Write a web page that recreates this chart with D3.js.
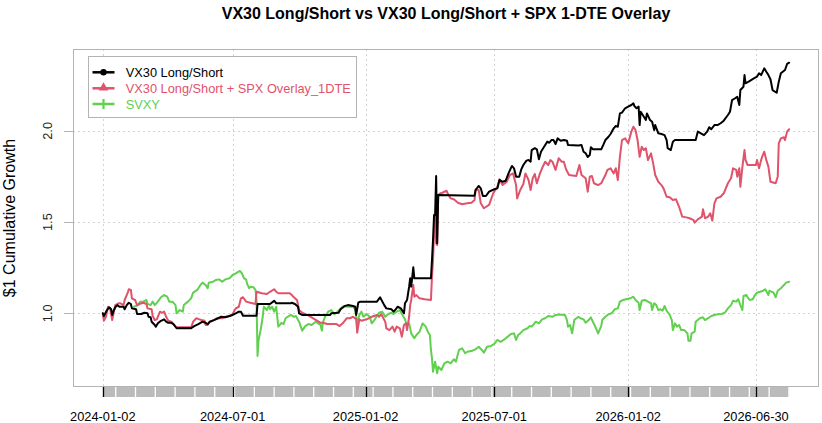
<!DOCTYPE html>
<html><head><meta charset="utf-8">
<script src="https://cdn.jsdelivr.net/npm/d3@7/dist/d3.min.js"></script>
<style>
html,body{margin:0;padding:0;background:#fff;}
svg{display:block;font-family:"Liberation Sans",Arial,Helvetica,sans-serif;}
</style></head>
<body>
<svg id="chart" width="822" height="423"></svg>
<script>
// ---- data (observation index, $1 cumulative growth) ----
const title = "VX30 Long/Short vs VX30 Long/Short + SPX 1-DTE Overlay";
const yTitle = "$1 Cumulative Growth";
const seriesNames = ["VX30 Long/Short", "VX30 Long/Short + SPX Overlay_1DTE", "SVXY"];
const nObs = 661;
const tickIdx = [0, 125, 253, 377, 506, 629];
const tickLabels = ["2024-01-02", "2024-07-01", "2025-01-02", "2025-07-01", "2026-01-02", "2026-06-30"];
const yTicks = [1.0, 1.5, 2.0];

const vx30 = [[0,1.000],[1,0.985],[4,1.018],[6,1.033],[8,1.022],[9,0.991],[10,1.009],[12,1.033],[14,1.045],[16,1.036],[20,1.036],[21,1.022],[23,1.045],[25,1.058],[27,1.051],[28,1.027],[32,1.022],[33,0.996],[37,0.996],[40,1.003],[43,1.000],[44,0.981],[46,0.978],[47,0.954],[50,0.936],[51,0.927],[53,0.945],[56,0.959],[59,0.967],[61,0.954],[63,0.948],[66,0.948],[68,0.941],[71,0.918],[85,0.918],[88,0.930],[92,0.941],[96,0.954],[99,0.948],[101,0.941],[103,0.954],[107,0.963],[111,0.973],[114,0.981],[118,0.978],[122,0.985],[125,0.991],[128,1.000],[131,1.009],[133,1.009],[135,0.987],[148,0.987],[149,1.051],[161,1.051],[164,1.064],[165,1.069],[167,1.055],[181,1.055],[182,1.058],[185,1.051],[188,1.036],[189,1.000],[192,0.991],[219,0.991],[220,1.000],[227,1.003],[229,1.022],[233,1.040],[236,1.045],[241,1.040],[243,1.036],[244,0.991],[246,1.058],[248,1.064],[264,1.064],[267,1.088],[268,1.077],[271,1.045],[273,1.027],[278,1.022],[280,1.009],[282,1.022],[284,1.036],[287,1.027],[290,1.000],[291,1.055],[293,1.073],[294,1.110],[295,1.146],[296,1.192],[297,1.146],[299,1.252],[300,1.192],[302,1.192],[316,1.192],[317,1.292],[318,1.402],[319,1.539],[320,1.539],[321,1.753],[322,1.384],[323,1.649],[358,1.645],[359,1.676],[362,1.698],[364,1.685],[366,1.643],[369,1.643],[372,1.667],[377,1.680],[380,1.685],[382,1.731],[385,1.721],[388,1.727],[391,1.771],[394,1.808],[396,1.795],[398,1.749],[401,1.749],[403,1.789],[405,1.813],[408,1.837],[410,1.840],[412,1.831],[413,1.895],[416,1.905],[418,1.899],[420,1.844],[422,1.886],[425,1.913],[428,1.941],[430,1.935],[432,1.950],[434,1.950],[436,1.928],[438,1.959],[441,1.946],[444,1.950],[447,1.946],[448,1.923],[458,1.920],[461,1.923],[463,1.886],[465,1.877],[467,1.857],[469,1.868],[470,1.910],[472,1.899],[480,1.899],[482,1.923],[484,1.950],[487,1.968],[489,1.983],[492,2.014],[494,2.027],[496,2.023],[498,2.096],[500,2.100],[503,2.124],[506,2.133],[509,2.142],[511,2.151],[512,2.136],[514,2.124],[516,2.133],[517,2.032],[518,2.105],[520,2.087],[523,2.060],[524,2.096],[527,2.060],[529,2.050],[531,2.005],[532,2.032],[535,1.987],[538,1.983],[541,1.977],[543,1.950],[544,1.905],[547,1.895],[549,1.941],[551,1.950],[571,1.950],[573,1.996],[576,1.987],[579,1.977],[582,1.996],[584,2.020],[586,2.009],[589,2.032],[592,2.032],[595,2.042],[598,2.056],[602,2.087],[604,2.105],[606,2.169],[609,2.179],[611,2.187],[613,2.142],[614,2.224],[617,2.242],[618,2.306],[619,2.261],[622,2.270],[627,2.288],[630,2.297],[632,2.316],[634,2.306],[637,2.343],[639,2.324],[641,2.306],[643,2.283],[645,2.224],[649,2.209],[651,2.270],[653,2.316],[657,2.334],[659,2.367],[661,2.374]];

const vx30Overlay = [[0,1.000],[1,0.959],[3,0.981],[5,1.036],[7,1.027],[9,0.963],[10,0.991],[12,1.045],[15,1.055],[17,1.055],[20,1.045],[21,1.073],[24,1.113],[25,1.132],[27,1.128],[28,1.082],[31,1.073],[33,1.045],[35,1.051],[39,1.058],[42,1.051],[43,1.027],[47,1.022],[48,0.985],[50,0.963],[52,0.967],[55,1.009],[57,1.003],[59,1.009],[61,0.981],[63,0.959],[66,0.954],[68,0.941],[71,0.923],[85,0.923],[87,0.954],[90,0.973],[93,0.967],[95,0.963],[98,0.959],[99,0.936],[101,0.936],[103,0.954],[107,0.963],[110,0.973],[115,0.973],[118,0.981],[122,0.985],[125,0.996],[128,1.027],[131,1.036],[133,1.082],[135,1.088],[138,1.064],[142,1.058],[147,1.051],[148,1.118],[153,1.110],[158,1.106],[161,1.118],[165,1.132],[167,1.118],[169,1.110],[180,1.110],[182,1.100],[184,1.088],[187,1.073],[189,1.018],[192,1.003],[197,0.991],[209,0.950],[212,0.948],[216,0.941],[225,0.941],[228,0.930],[231,0.945],[235,0.973],[238,0.973],[241,0.981],[244,0.967],[245,0.894],[247,0.967],[249,0.959],[254,0.967],[259,0.981],[264,0.991],[266,0.981],[268,0.996],[272,0.954],[273,0.918],[276,0.908],[279,0.927],[281,0.899],[283,0.927],[286,0.918],[288,0.872],[290,0.936],[292,0.945],[293,0.908],[295,0.981],[296,1.045],[297,1.073],[299,1.155],[300,1.091],[302,1.100],[305,1.082],[310,1.077],[316,1.073],[317,1.201],[318,1.292],[319,1.439],[320,1.539],[321,1.384],[322,1.374],[323,1.649],[325,1.658],[327,1.661],[331,1.672],[332,1.658],[335,1.630],[338,1.625],[342,1.606],[346,1.598],[351,1.603],[355,1.606],[358,1.621],[359,1.679],[362,1.676],[364,1.603],[367,1.576],[372,1.594],[376,1.658],[380,1.694],[382,1.735],[385,1.703],[389,1.721],[392,1.758],[395,1.767],[398,1.703],[399,1.630],[402,1.676],[405,1.709],[407,1.767],[410,1.731],[412,1.676],[414,1.740],[416,1.764],[418,1.713],[421,1.767],[423,1.795],[426,1.831],[429,1.813],[431,1.840],[433,1.831],[436,1.786],[439,1.850],[442,1.831],[444,1.831],[446,1.791],[449,1.758],[456,1.753],[459,1.813],[461,1.758],[465,1.740],[467,1.667],[469,1.749],[471,1.753],[473,1.713],[477,1.703],[480,1.713],[484,1.758],[486,1.786],[489,1.795],[492,1.767],[494,1.795],[496,1.731],[498,1.858],[500,1.950],[503,1.959],[506,1.932],[509,1.996],[511,2.023],[513,2.005],[515,1.950],[517,1.858],[519,1.913],[521,1.895],[523,1.905],[525,1.840],[528,1.877],[530,1.822],[532,1.758],[535,1.721],[538,1.703],[540,1.685],[543,1.639],[546,1.636],[549,1.621],[552,1.625],[555,1.584],[558,1.530],[562,1.526],[565,1.521],[569,1.511],[570,1.497],[573,1.515],[577,1.530],[578,1.570],[580,1.521],[583,1.530],[585,1.548],[587,1.508],[589,1.603],[591,1.630],[595,1.639],[598,1.658],[602,1.713],[605,1.740],[607,1.795],[610,1.786],[611,1.749],[613,1.795],[614,1.694],[616,1.804],[618,1.895],[619,1.840],[621,1.813],[629,1.813],[630,1.840],[632,1.795],[634,1.840],[635,1.858],[637,1.886],[639,1.840],[641,1.804],[643,1.721],[648,1.713],[650,1.749],[651,1.932],[653,1.959],[656,1.965],[657,1.950],[659,1.996],[661,2.009]];

const svxy = [[30,1.036],[34,1.045],[36,1.064],[39,1.064],[42,1.073],[43,1.051],[46,1.045],[48,1.064],[50,1.045],[53,1.064],[56,1.088],[59,1.100],[62,1.091],[64,1.064],[67,1.064],[70,1.045],[71,1.000],[74,1.018],[77,1.009],[78,1.045],[82,1.064],[85,1.082],[87,1.113],[91,1.128],[94,1.155],[96,1.168],[99,1.155],[101,1.137],[102,1.168],[106,1.173],[109,1.183],[112,1.186],[115,1.173],[118,1.186],[122,1.192],[125,1.210],[128,1.219],[132,1.232],[134,1.219],[136,1.192],[138,1.186],[139,1.161],[141,1.137],[142,1.146],[145,1.143],[147,1.128],[148,1.073],[149,0.766],[150,0.854],[152,0.908],[154,0.981],[155,1.036],[158,1.018],[160,1.045],[161,1.022],[163,1.036],[165,1.009],[167,1.036],[168,0.981],[169,0.927],[172,0.948],[174,0.941],[176,0.973],[178,0.981],[181,0.991],[184,0.981],[186,0.985],[188,0.963],[189,0.954],[192,0.905],[195,0.930],[198,0.941],[201,0.936],[205,0.954],[208,0.941],[209,0.948],[211,0.905],[212,0.951],[214,0.981],[215,0.991],[216,1.000],[217,1.009],[220,1.018],[223,0.996],[225,1.003],[229,1.027],[232,1.040],[236,1.036],[241,1.036],[243,1.022],[245,0.945],[247,0.991],[249,1.009],[251,0.981],[254,0.996],[257,0.981],[259,0.945],[262,0.967],[264,0.985],[266,1.003],[269,1.009],[272,0.981],[275,0.996],[278,1.003],[280,0.996],[283,1.009],[286,1.018],[288,0.996],[291,0.967],[292,0.948],[294,0.936],[295,0.945],[297,0.890],[299,0.872],[300,0.863],[302,0.881],[305,0.899],[308,0.945],[311,0.927],[313,0.899],[315,0.881],[316,0.799],[317,0.753],[318,0.680],[320,0.735],[322,0.671],[323,0.707],[326,0.689],[329,0.726],[332,0.735],[335,0.726],[338,0.748],[340,0.735],[343,0.799],[346,0.808],[349,0.781],[351,0.789],[356,0.795],[359,0.803],[362,0.817],[365,0.799],[367,0.784],[370,0.817],[374,0.821],[377,0.832],[380,0.854],[383,0.844],[386,0.854],[390,0.872],[393,0.887],[396,0.890],[398,0.854],[400,0.881],[402,0.890],[405,0.908],[409,0.918],[411,0.930],[413,0.927],[417,0.954],[420,0.945],[423,0.967],[426,0.973],[429,0.985],[433,0.981],[436,0.991],[439,0.993],[445,0.991],[447,0.963],[448,0.927],[450,0.936],[452,0.890],[454,0.963],[458,0.981],[460,0.973],[463,0.967],[465,0.948],[468,0.963],[470,0.978],[472,0.954],[475,0.918],[477,0.890],[480,0.930],[481,0.963],[484,0.981],[487,0.995],[490,1.000],[493,1.022],[496,1.027],[498,1.064],[501,1.073],[504,1.077],[508,1.082],[511,1.091],[513,1.073],[516,1.058],[517,1.018],[519,1.069],[522,1.073],[525,1.064],[528,1.055],[529,1.018],[531,1.055],[533,1.045],[535,1.018],[537,1.022],[539,1.014],[541,1.040],[543,1.014],[546,0.991],[548,0.963],[549,0.908],[551,0.945],[553,0.927],[555,0.936],[557,0.908],[560,0.908],[563,0.890],[564,0.850],[566,0.850],[567,0.890],[570,0.899],[571,0.954],[575,0.973],[578,0.978],[580,0.963],[583,0.973],[586,0.985],[589,0.991],[592,0.995],[596,0.996],[599,1.003],[602,1.027],[605,1.045],[607,1.069],[610,1.064],[612,1.077],[614,1.045],[616,1.018],[617,1.095],[620,1.100],[621,1.088],[623,1.073],[626,1.077],[628,1.100],[630,1.113],[633,1.118],[636,1.124],[638,1.132],[641,1.100],[642,1.124],[646,1.113],[648,1.088],[650,1.124],[653,1.137],[656,1.155],[658,1.168],[661,1.173]];

const seriesData = [vx30, vx30Overlay, svxy];
const seriesColors = ["#000000", "#DF536B", "#61D04F"];

// ---- layout ----
const plot = {left: 73, right: 819, top: 49, bottom: 387};
const pad = 0.04 * nObs / (1 - 0.08);
const x = d3.scaleLinear().domain([-pad, nObs + pad]).range([plot.left, plot.right]);
const yMin = 0.596, yMax = 2.449;
const y = d3.scaleLinear().domain([yMin, yMax]).range([plot.bottom, plot.top]);

const svg = d3.select("#chart");
const FONT = 12.8;

// title
svg.append("text").attr("x", (plot.left + plot.right) / 2).attr("y", 19)
  .attr("text-anchor", "middle").attr("font-weight", "bold").attr("font-size", 16)
  .text(title);

// y title
svg.append("text").attr("transform", `translate(14.5,${(plot.top + plot.bottom) / 2}) rotate(-90)`)
  .attr("text-anchor", "middle").attr("font-size", 16).text(yTitle);

// grid
const grid = svg.append("g").attr("stroke", "#d3d3d3").attr("stroke-width", 1).attr("stroke-dasharray", "2,3");
grid.selectAll("line.h").data(yTicks).join("line").attr("class", "h")
  .attr("x1", plot.left).attr("x2", plot.right)
  .attr("y1", d => Math.round(y(d)) + 0.5).attr("y2", d => Math.round(y(d)) + 0.5);
grid.selectAll("line.v").data(tickIdx).join("line").attr("class", "v")
  .attr("x1", d => Math.round(x(d)) + 0.5).attr("x2", d => Math.round(x(d)) + 0.5)
  .attr("y1", plot.top).attr("y2", plot.bottom);

// y axis ticks and labels
const yAxis = svg.append("g");
yAxis.selectAll("line").data(yTicks).join("line")
  .attr("x1", 64).attr("x2", plot.left)
  .attr("y1", d => Math.round(y(d)) + 0.5).attr("y2", d => Math.round(y(d)) + 0.5)
  .attr("stroke", "#b3b3b3");
yAxis.selectAll("text").data(yTicks).join("text")
  .attr("transform", d => `translate(51.5,${y(d)}) rotate(-90)`)
  .attr("text-anchor", "middle").attr("font-size", FONT).attr("fill", "#222")
  .text(d => d3.format(".1f")(d));

// x axis: minor tick band, major ticks, labels
const xAxis = svg.append("g");
const bandTop = plot.bottom, bandBot = 397;
xAxis.append("rect").attr("x", x(0)).attr("y", bandTop)
  .attr("width", x(nObs) - x(0)).attr("height", bandBot - bandTop).attr("fill", "#bbbbbb");
const gapIdx = d3.range(12.4, nObs, 19.07);
xAxis.selectAll("line.gap").data(gapIdx).join("line").attr("class", "gap")
  .attr("x1", d => x(d)).attr("x2", d => x(d)).attr("y1", bandTop).attr("y2", bandBot)
  .attr("stroke", "#ffffff").attr("stroke-width", 1.3);
xAxis.selectAll("line.maj").data(tickIdx).join("line").attr("class", "maj")
  .attr("x1", d => Math.round(x(d)) + 0.5).attr("x2", d => Math.round(x(d)) + 0.5)
  .attr("y1", bandTop).attr("y2", bandBot).attr("stroke", "#000").attr("stroke-width", 1.3);
xAxis.selectAll("text").data(tickIdx).join("text")
  .attr("x", d => x(d)).attr("y", 421).attr("text-anchor", "middle")
  .attr("font-size", FONT).attr("fill", "#000")
  .text((d, i) => tickLabels[i]);

// series lines (drawn so that the first series is on top)
const line = d3.line().x(d => x(d[0])).y(d => y(d[1]));
const lines = svg.append("g").attr("fill", "none").attr("stroke-width", 2)
  .attr("stroke-linejoin", "round").attr("stroke-linecap", "round");
[2, 1, 0].forEach(i => {
  lines.append("path").datum(seriesData[i]).attr("d", line).attr("stroke", seriesColors[i]);
});

// frame
svg.append("rect").attr("x", plot.left + 0.5).attr("y", plot.top + 0.5)
  .attr("width", plot.right - plot.left - 1).attr("height", plot.bottom - plot.top - 1)
  .attr("fill", "none").attr("stroke", "#b3b3b3");

// legend
const lg = svg.append("g");
lg.append("rect").attr("x", 88.5).attr("y", 56.5).attr("width", 268).attr("height", 61)
  .attr("fill", "#fff").attr("stroke", "#b3b3b3");
const rowY = [72.3, 88.3, 104];
seriesNames.forEach((name, i) => {
  const cy = rowY[i];
  lg.append("line").attr("x1", 92.5).attr("x2", 114.5).attr("y1", cy).attr("y2", cy)
    .attr("stroke", seriesColors[i]).attr("stroke-width", 2.5);
  if (i === 0) {
    lg.append("circle").attr("cx", 103.5).attr("cy", cy).attr("r", 3.2).attr("fill", seriesColors[i]);
  } else if (i === 1) {
    lg.append("path").attr("d", d3.symbol(d3.symbolTriangle, 40)()).attr("transform", `translate(103.5,${cy - 0.5})`)
      .attr("fill", seriesColors[i]);
  } else {
    lg.append("path").attr("d", `M103.5,${cy - 5}V${cy + 5}`).attr("stroke", seriesColors[i]).attr("stroke-width", 2.2);
  }
  lg.append("text").attr("x", 125.7).attr("y", cy + 4.5).attr("font-size", FONT)
    .attr("fill", seriesColors[i]).text(name);
});
</script>
</body></html>
